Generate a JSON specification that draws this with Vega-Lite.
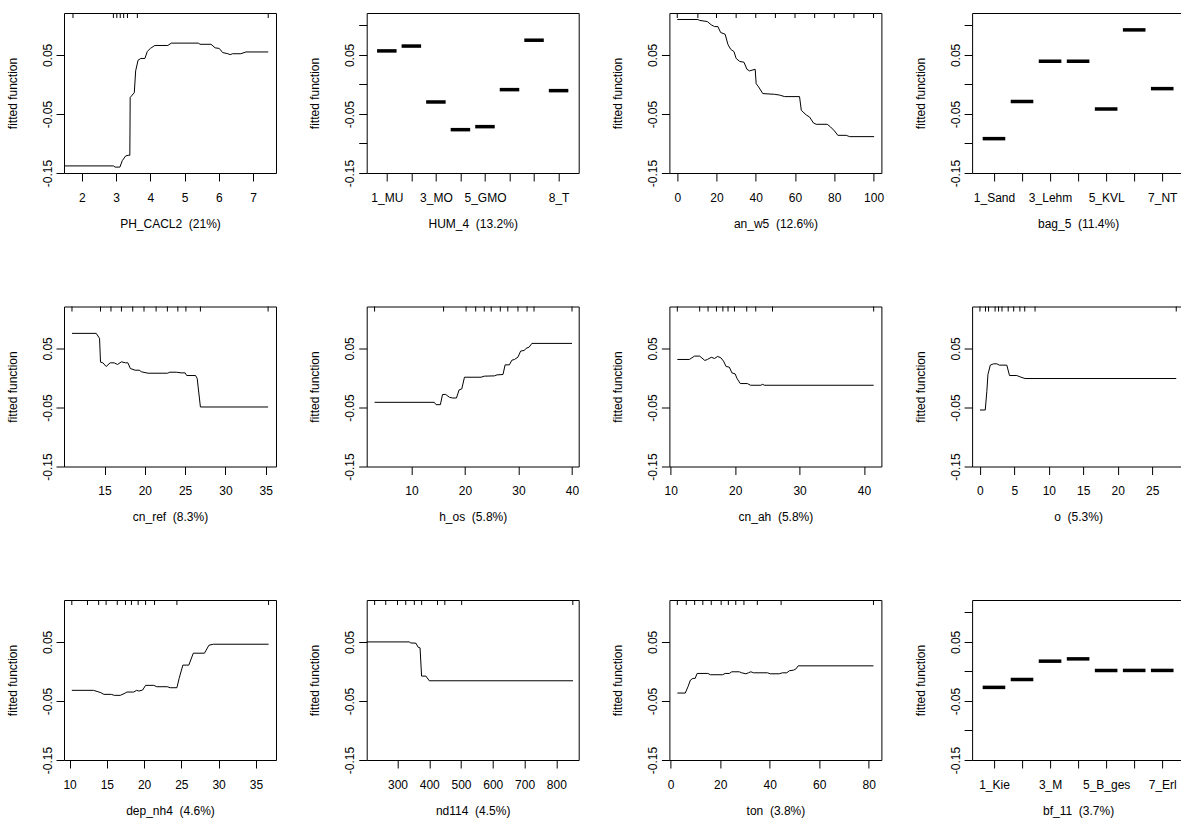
{
"$schema": "https://vega.github.io/schema/vega-lite/v6.json",
"background": "white",
"padding": {"left": 5, "top": 12, "right": 0, "bottom": 6},
"bounds": "flush",
"columns": 4,
"spacing": {"row": 133.5, "column": 90.7},
"config": {
 "font": "Liberation Sans",
 "view": {"stroke": "black", "strokeWidth": 1},
 "tick": {"opacity": 1},
 "axis": {"domain": false, "grid": false, "tickColor": "black", "tickWidth": 1, "tickSize": 8,
  "labelFont": "Liberation Sans", "labelFontSize": 12, "labelColor": "black", "labelOverlap": false, "labelFlush": false, "labelBound": false,
  "titleFont": "Liberation Sans", "titleFontSize": 12, "titleFontWeight": "normal", "titleColor": "black"},
 "axisX": {"labelPadding": 11, "titlePadding": 15, "labelAngle": 0},
 "axisY": {"labelAngle": 270, "labelPadding": 2, "titlePadding": 22}
},
"datasets": {
 "d1": [{"x":1.48,"y":-0.138},{"x":2.92,"y":-0.138},{"x":2.97,"y":-0.14},{"x":3.11,"y":-0.14},{"x":3.18,"y":-0.129},{"x":3.28,"y":-0.121},{"x":3.35,"y":-0.12},{"x":3.40,"y":-0.12},{"x":3.41,"y":-0.022},{"x":3.47,"y":-0.018},{"x":3.53,"y":-0.014},{"x":3.57,"y":0.023},{"x":3.64,"y":0.041},{"x":3.72,"y":0.044},{"x":3.84,"y":0.044},{"x":3.91,"y":0.056},{"x":4.0,"y":0.061},{"x":4.13,"y":0.066},{"x":4.51,"y":0.066},{"x":4.61,"y":0.070},{"x":5.40,"y":0.070},{"x":5.45,"y":0.068},{"x":5.77,"y":0.068},{"x":5.89,"y":0.062},{"x":6.01,"y":0.061},{"x":6.11,"y":0.054},{"x":6.26,"y":0.052},{"x":6.33,"y":0.0505},{"x":6.40,"y":0.052},{"x":6.64,"y":0.052},{"x":6.79,"y":0.055},{"x":7.44,"y":0.055}],
 "r1": [{"x":1.74},{"x":2.92},{"x":3.02},{"x":3.12},{"x":3.22},{"x":3.33},{"x":3.62},{"x":7.44}],
 "d2": [{"x":1,"y":0.0568},{"x":2,"y":0.065},{"x":3,"y":-0.0297},{"x":4,"y":-0.0766},{"x":5,"y":-0.0715},{"x":6,"y":-0.0088},{"x":7,"y":0.0749},{"x":8,"y":-0.0105}],
 "d3": [{"x":0,"y":0.110},{"x":10.5,"y":0.110},{"x":11.4,"y":0.1085},{"x":15.3,"y":0.1065},{"x":17.3,"y":0.101},{"x":19,"y":0.098},{"x":20.7,"y":0.098},{"x":22.1,"y":0.088},{"x":24.4,"y":0.085},{"x":25.8,"y":0.068},{"x":27.2,"y":0.0596},{"x":28.9,"y":0.0556},{"x":30,"y":0.044},{"x":31.8,"y":0.039},{"x":34,"y":0.0376},{"x":35.5,"y":0.0257},{"x":36.8,"y":0.0229},{"x":39.7,"y":0.0257},{"x":40.2,"y":0.0014},{"x":41.4,"y":-0.004},{"x":43.6,"y":-0.0155},{"x":49.6,"y":-0.0167},{"x":52.1,"y":-0.018},{"x":54.7,"y":-0.0206},{"x":62.3,"y":-0.0206},{"x":63.2,"y":-0.0438},{"x":65.7,"y":-0.0517},{"x":67.4,"y":-0.0551},{"x":69.4,"y":-0.0653},{"x":70.8,"y":-0.0675},{"x":76.4,"y":-0.0675},{"x":78.1,"y":-0.072},{"x":80.1,"y":-0.0788},{"x":81.8,"y":-0.0862},{"x":86.1,"y":-0.0862},{"x":87.8,"y":-0.0884},{"x":100.3,"y":-0.0884}],
 "r3": [{"x":0},{"x":10.5},{"x":20},{"x":30},{"x":40},{"x":50},{"x":60},{"x":70},{"x":80},{"x":90},{"x":100}],
 "d4": [{"x":1,"y":-0.0918},{"x":2,"y":-0.0291},{"x":3,"y":0.0393},{"x":4,"y":0.0393},{"x":5,"y":-0.0415},{"x":6,"y":0.0924},{"x":7,"y":-0.0071}],
 "d5": [{"x":10.96,"y":0.0755},{"x":13.97,"y":0.0755},{"x":14.38,"y":0.067},{"x":14.5,"y":0.0268},{"x":14.8,"y":0.0256},{"x":15.2,"y":0.0194},{"x":15.7,"y":0.0256},{"x":16.2,"y":0.0256},{"x":16.6,"y":0.0228},{"x":17.1,"y":0.0273},{"x":17.6,"y":0.0256},{"x":17.9,"y":0.0256},{"x":18.2,"y":0.016},{"x":18.8,"y":0.0131},{"x":19.3,"y":0.0131},{"x":19.6,"y":0.0103},{"x":20.4,"y":0.008},{"x":22.8,"y":0.008},{"x":23.1,"y":0.0097},{"x":23.9,"y":0.0097},{"x":24.5,"y":0.0086},{"x":25,"y":0.0086},{"x":25.2,"y":0.0041},{"x":26.3,"y":0.0041},{"x":26.5,"y":-0.001},{"x":26.9,"y":-0.0492},{"x":35.3,"y":-0.0492}],
 "r5": [{"x":10.96},{"x":14.5},{"x":15.8},{"x":17.1},{"x":18.5},{"x":19.9},{"x":21.4},{"x":22.8},{"x":24.1},{"x":25.1},{"x":26.9},{"x":35.3}],
 "d6": [{"x":3.1,"y":-0.0413},{"x":14.25,"y":-0.0413},{"x":14.6,"y":-0.0453},{"x":15.4,"y":-0.0453},{"x":15.8,"y":-0.028},{"x":16.4,"y":-0.028},{"x":17.1,"y":-0.0328},{"x":17.7,"y":-0.034},{"x":18.4,"y":-0.034},{"x":18.9,"y":-0.0203},{"x":19.4,"y":-0.0186},{"x":19.9,"y":0.0012},{"x":23,"y":0.0012},{"x":23.6,"y":0.003},{"x":25.5,"y":0.0035},{"x":26,"y":0.0052},{"x":27.1,"y":0.0058},{"x":27.5,"y":0.0222},{"x":28.3,"y":0.0222},{"x":28.75,"y":0.030},{"x":29.25,"y":0.0313},{"x":29.9,"y":0.0353},{"x":30.4,"y":0.0455},{"x":31.1,"y":0.0466},{"x":31.4,"y":0.05},{"x":32,"y":0.0523},{"x":32.5,"y":0.0585},{"x":40,"y":0.0585}],
 "r6": [{"x":3.1},{"x":16},{"x":20.2},{"x":22},{"x":23.6},{"x":24.9},{"x":26.6},{"x":28},{"x":29.9},{"x":31.6},{"x":32.9},{"x":40}],
 "d7": [{"x":11.03,"y":0.0313},{"x":12.9,"y":0.0313},{"x":13.7,"y":0.037},{"x":14.5,"y":0.037},{"x":15.3,"y":0.0296},{"x":15.7,"y":0.0313},{"x":16.3,"y":0.035},{"x":16.8,"y":0.033},{"x":17.3,"y":0.0364},{"x":17.8,"y":0.034},{"x":18.2,"y":0.0285},{"x":18.6,"y":0.0194},{"x":19.1,"y":0.0183},{"x":19.5,"y":0.0086},{"x":20,"y":0.0069},{"x":20.3,"y":-0.001},{"x":20.8,"y":-0.0095},{"x":21.9,"y":-0.0095},{"x":22.4,"y":-0.0124},{"x":24,"y":-0.0124},{"x":24.3,"y":-0.0107},{"x":24.5,"y":-0.0124},{"x":41.5,"y":-0.0124}],
 "r7": [{"x":11.03},{"x":14.5},{"x":15.8},{"x":17.1},{"x":18.1},{"x":18.9},{"x":19.9},{"x":21.8},{"x":23.2},{"x":25.8},{"x":41.5}],
 "d8": [{"x":0,"y":-0.0543},{"x":0.77,"y":-0.0543},{"x":1.0,"y":-0.0226},{"x":1.16,"y":0.0058},{"x":1.5,"y":0.0217},{"x":1.97,"y":0.0239},{"x":2.46,"y":0.0239},{"x":2.8,"y":0.0217},{"x":3.9,"y":0.0217},{"x":4.29,"y":0.0041},{"x":5.35,"y":0.0041},{"x":5.83,"y":0.0018},{"x":6.55,"y":-0.001},{"x":28.5,"y":-0.001}],
 "r8": [{"x":0},{"x":0.8},{"x":1.25},{"x":2.2},{"x":2.7},{"x":3.2},{"x":4.1},{"x":4.9},{"x":5.8},{"x":6.5},{"x":8},{"x":28.5}],
 "d9": [{"x":10.3,"y":-0.032},{"x":13.2,"y":-0.032},{"x":13.8,"y":-0.0343},{"x":14.2,"y":-0.036},{"x":14.6,"y":-0.0388},{"x":15.6,"y":-0.0388},{"x":16,"y":-0.0405},{"x":16.8,"y":-0.0405},{"x":17.3,"y":-0.0377},{"x":17.7,"y":-0.0349},{"x":18.6,"y":-0.0349},{"x":19,"y":-0.032},{"x":19.3,"y":-0.0332},{"x":19.8,"y":-0.0315},{"x":20.2,"y":-0.0236},{"x":21.3,"y":-0.0236},{"x":21.7,"y":-0.0259},{"x":23.1,"y":-0.0259},{"x":23.5,"y":-0.0276},{"x":24.4,"y":-0.0276},{"x":24.7,"y":-0.0118},{"x":25.2,"y":0.0107},{"x":26,"y":0.0107},{"x":26.6,"y":0.0309},{"x":28.1,"y":0.0309},{"x":28.7,"y":0.0444},{"x":29.3,"y":0.0461},{"x":36.7,"y":0.0461}],
 "r9": [{"x":10.3},{"x":12.4},{"x":13.9},{"x":14.9},{"x":16.4},{"x":17.5},{"x":18.3},{"x":19.2},{"x":20.2},{"x":21.4},{"x":24.4},{"x":36.7}],
 "d10": [{"x":203,"y":0.05},{"x":336.8,"y":0.05},{"x":342,"y":0.0483},{"x":358,"y":0.0478},{"x":365,"y":0.041},{"x":371,"y":0.0399},{"x":375.8,"y":-0.0079},{"x":389.5,"y":-0.0079},{"x":400,"y":-0.0158},{"x":852.6,"y":-0.0158}],
 "r10": [{"x":228},{"x":263},{"x":300},{"x":326},{"x":353},{"x":376},{"x":426},{"x":449},{"x":502},{"x":852}],
 "d11": [{"x":2.7,"y":-0.0366},{"x":5.9,"y":-0.0366},{"x":7,"y":-0.0259},{"x":8,"y":-0.0146},{"x":9,"y":-0.0118},{"x":9.9,"y":-0.0118},{"x":10.7,"y":-0.0034},{"x":15,"y":-0.0034},{"x":16.1,"y":-0.0056},{"x":21,"y":-0.0056},{"x":22,"y":-0.0034},{"x":23.7,"y":-0.0034},{"x":24.7,"y":-0.0006},{"x":27.7,"y":-0.0006},{"x":28.7,"y":-0.0023},{"x":30.4,"y":-0.004},{"x":31.4,"y":-0.0023},{"x":32.4,"y":-0.0006},{"x":33.5,"y":-0.0023},{"x":39.1,"y":-0.0023},{"x":40.2,"y":-0.004},{"x":43.8,"y":-0.004},{"x":45.2,"y":-0.0023},{"x":46.9,"y":-0.0023},{"x":47.9,"y":0.0011},{"x":49.6,"y":0.0022},{"x":50.5,"y":0.0039},{"x":51.5,"y":0.0095},{"x":81.9,"y":0.0095}],
 "r11": [{"x":2.7},{"x":6.3},{"x":9.7},{"x":13},{"x":16.4},{"x":20.4},{"x":23.3},{"x":26.3},{"x":29.6},{"x":35},{"x":44.6},{"x":81.9}],
 "d12": [{"x":1,"y":-0.027},{"x":2,"y":-0.0135},{"x":3,"y":0.0174},{"x":4,"y":0.0213},{"x":5,"y":0.0017},{"x":6,"y":0.0017},{"x":7,"y":0.0017}]
},
"concat": [
 {"width": 212, "height": 160, "layer": [
  {"data": {"name": "d1"}, "mark": {"type": "line", "color": "black", "strokeWidth": 1},
   "encoding": {"x": {"field": "x", "type": "quantitative", "scale": {"domain": [1.478, 7.667], "nice": false, "zero": false}, "axis": {"values": [2,3,4,5,6,7], "title": "PH_CACL2\u00a0 (21%)"}},
    "y": {"field": "y", "type": "quantitative", "scale": {"domain": [-0.15, 0.121], "nice": false, "zero": false}, "axis": {"values": [-0.15,-0.1,-0.05,0,0.05,0.1], "labelExpr": "datum.value == 0.05 ? '0.05' : datum.value == -0.05 ? '-0.05' : datum.value == -0.15 ? '-0.15' : ''", "title": "fitted function"}}}},
  {"data": {"name": "r1"}, "mark": {"type": "rule", "color": "black", "strokeWidth": 1},
   "encoding": {"x": {"field": "x", "type": "quantitative"}, "y": {"datum": 0.121}, "y2": {"datum": 0.1125}}}
 ]},
 {"width": 212, "height": 160, "layer": [
  {"data": {"name": "d2"}, "mark": {"type": "tick", "orient": "horizontal", "color": "black", "opacity": 1, "size": 19.5, "thickness": 3.5},
   "encoding": {"x": {"field": "x", "type": "quantitative", "scale": {"domain": [0.18, 8.82], "nice": false, "zero": false}, "axis": {"values": [1,2,3,4,5,6,7,8], "labelExpr": "datum.value == 1 ? '1_MU' : datum.value == 3 ? '3_MO' : datum.value == 5 ? '5_GMO' : datum.value == 8 ? '8_T' : ''", "title": "HUM_4\u00a0 (13.2%)"}},
    "y": {"field": "y", "type": "quantitative", "scale": {"domain": [-0.15, 0.121], "nice": false, "zero": false}, "axis": {"values": [-0.15,-0.1,-0.05,0,0.05,0.1], "labelExpr": "datum.value == 0.05 ? '0.05' : datum.value == -0.05 ? '-0.05' : datum.value == -0.15 ? '-0.15' : ''", "title": "fitted function"}}}}
 ]},
 {"width": 212, "height": 160, "layer": [
  {"data": {"name": "d3"}, "mark": {"type": "line", "color": "black", "strokeWidth": 1},
   "encoding": {"x": {"field": "x", "type": "quantitative", "scale": {"domain": [-4.0, 104.0], "nice": false, "zero": false}, "axis": {"values": [0,20,40,60,80,100], "title": "an_w5\u00a0 (12.6%)"}},
    "y": {"field": "y", "type": "quantitative", "scale": {"domain": [-0.15, 0.121], "nice": false, "zero": false}, "axis": {"values": [-0.15,-0.1,-0.05,0,0.05,0.1], "labelExpr": "datum.value == 0.05 ? '0.05' : datum.value == -0.05 ? '-0.05' : datum.value == -0.15 ? '-0.15' : ''", "title": "fitted function"}}}},
  {"data": {"name": "r3"}, "mark": {"type": "rule", "color": "black", "strokeWidth": 1},
   "encoding": {"x": {"field": "x", "type": "quantitative"}, "y": {"datum": 0.121}, "y2": {"datum": 0.1125}}}
 ]},
 {"width": 212, "height": 160, "layer": [
  {"data": {"name": "d4"}, "mark": {"type": "tick", "orient": "horizontal", "color": "black", "opacity": 1, "size": 22.6, "thickness": 3.5},
   "encoding": {"x": {"field": "x", "type": "quantitative", "scale": {"domain": [0.22, 7.78], "nice": false, "zero": false}, "axis": {"values": [1,2,3,4,5,6,7], "labelExpr": "datum.value == 1 ? '1_Sand' : datum.value == 3 ? '3_Lehm' : datum.value == 5 ? '5_KVL' : datum.value == 7 ? '7_NT' : ''", "title": "bag_5\u00a0 (11.4%)"}},
    "y": {"field": "y", "type": "quantitative", "scale": {"domain": [-0.15, 0.121], "nice": false, "zero": false}, "axis": {"values": [-0.15,-0.1,-0.05,0,0.05,0.1], "labelExpr": "datum.value == 0.05 ? '0.05' : datum.value == -0.05 ? '-0.05' : datum.value == -0.15 ? '-0.15' : ''", "title": "fitted function"}}}}
 ]},
 {"width": 212, "height": 160, "layer": [
  {"data": {"name": "d5"}, "mark": {"type": "line", "color": "black", "strokeWidth": 1},
   "encoding": {"x": {"field": "x", "type": "quantitative", "scale": {"domain": [9.97, 36.28], "nice": false, "zero": false}, "axis": {"values": [15,20,25,30,35], "title": "cn_ref\u00a0 (8.3%)"}},
    "y": {"field": "y", "type": "quantitative", "scale": {"domain": [-0.15, 0.121], "nice": false, "zero": false}, "axis": {"values": [-0.15,-0.1,-0.05,0,0.05,0.1], "labelExpr": "datum.value == 0.05 ? '0.05' : datum.value == -0.05 ? '-0.05' : datum.value == -0.15 ? '-0.15' : ''", "title": "fitted function"}}}},
  {"data": {"name": "r5"}, "mark": {"type": "rule", "color": "black", "strokeWidth": 1},
   "encoding": {"x": {"field": "x", "type": "quantitative"}, "y": {"datum": 0.121}, "y2": {"datum": 0.1125}}}
 ]},
 {"width": 212, "height": 160, "layer": [
  {"data": {"name": "d6"}, "mark": {"type": "line", "color": "black", "strokeWidth": 1},
   "encoding": {"x": {"field": "x", "type": "quantitative", "scale": {"domain": [1.63, 41.25], "nice": false, "zero": false}, "axis": {"values": [10,20,30,40], "title": "h_os\u00a0 (5.8%)"}},
    "y": {"field": "y", "type": "quantitative", "scale": {"domain": [-0.15, 0.121], "nice": false, "zero": false}, "axis": {"values": [-0.15,-0.1,-0.05,0,0.05,0.1], "labelExpr": "datum.value == 0.05 ? '0.05' : datum.value == -0.05 ? '-0.05' : datum.value == -0.15 ? '-0.15' : ''", "title": "fitted function"}}}},
  {"data": {"name": "r6"}, "mark": {"type": "rule", "color": "black", "strokeWidth": 1},
   "encoding": {"x": {"field": "x", "type": "quantitative"}, "y": {"datum": 0.121}, "y2": {"datum": 0.1125}}}
 ]},
 {"width": 212, "height": 160, "layer": [
  {"data": {"name": "d7"}, "mark": {"type": "line", "color": "black", "strokeWidth": 1},
   "encoding": {"x": {"field": "x", "type": "quantitative", "scale": {"domain": [9.8, 42.7], "nice": false, "zero": false}, "axis": {"values": [10,15,20,25,30,35,40], "title": "cn_ah\u00a0 (5.8%)"}},
    "y": {"field": "y", "type": "quantitative", "scale": {"domain": [-0.15, 0.121], "nice": false, "zero": false}, "axis": {"values": [-0.15,-0.1,-0.05,0,0.05,0.1], "labelExpr": "datum.value == 0.05 ? '0.05' : datum.value == -0.05 ? '-0.05' : datum.value == -0.15 ? '-0.15' : ''", "title": "fitted function"}}}},
  {"data": {"name": "r7"}, "mark": {"type": "rule", "color": "black", "strokeWidth": 1},
   "encoding": {"x": {"field": "x", "type": "quantitative"}, "y": {"datum": 0.121}, "y2": {"datum": 0.1125}}}
 ]},
 {"width": 212, "height": 160, "layer": [
  {"data": {"name": "d8"}, "mark": {"type": "line", "color": "black", "strokeWidth": 1},
   "encoding": {"x": {"field": "x", "type": "quantitative", "scale": {"domain": [-1.14, 29.64], "nice": false, "zero": false}, "axis": {"values": [0,5,10,15,20,25], "title": "o\u00a0 (5.3%)"}},
    "y": {"field": "y", "type": "quantitative", "scale": {"domain": [-0.15, 0.121], "nice": false, "zero": false}, "axis": {"values": [-0.15,-0.1,-0.05,0,0.05,0.1], "labelExpr": "datum.value == 0.05 ? '0.05' : datum.value == -0.05 ? '-0.05' : datum.value == -0.15 ? '-0.15' : ''", "title": "fitted function"}}}},
  {"data": {"name": "r8"}, "mark": {"type": "rule", "color": "black", "strokeWidth": 1},
   "encoding": {"x": {"field": "x", "type": "quantitative"}, "y": {"datum": 0.121}, "y2": {"datum": 0.1125}}}
 ]},
 {"width": 212, "height": 160, "layer": [
  {"data": {"name": "d9"}, "mark": {"type": "line", "color": "black", "strokeWidth": 1},
   "encoding": {"x": {"field": "x", "type": "quantitative", "scale": {"domain": [9.25, 37.7], "nice": false, "zero": false}, "axis": {"values": [10,15,20,25,30,35], "title": "dep_nh4\u00a0 (4.6%)"}},
    "y": {"field": "y", "type": "quantitative", "scale": {"domain": [-0.15, 0.121], "nice": false, "zero": false}, "axis": {"values": [-0.15,-0.1,-0.05,0,0.05,0.1], "labelExpr": "datum.value == 0.05 ? '0.05' : datum.value == -0.05 ? '-0.05' : datum.value == -0.15 ? '-0.15' : ''", "title": "fitted function"}}}},
  {"data": {"name": "r9"}, "mark": {"type": "rule", "color": "black", "strokeWidth": 1},
   "encoding": {"x": {"field": "x", "type": "quantitative"}, "y": {"datum": 0.121}, "y2": {"datum": 0.1125}}}
 ]},
 {"width": 212, "height": 160, "layer": [
  {"data": {"name": "d10"}, "mark": {"type": "line", "color": "black", "strokeWidth": 1},
   "encoding": {"x": {"field": "x", "type": "quantitative", "scale": {"domain": [203, 870.5], "nice": false, "zero": false}, "axis": {"values": [300,400,500,600,700,800], "title": "nd114\u00a0 (4.5%)"}},
    "y": {"field": "y", "type": "quantitative", "scale": {"domain": [-0.15, 0.121], "nice": false, "zero": false}, "axis": {"values": [-0.15,-0.1,-0.05,0,0.05,0.1], "labelExpr": "datum.value == 0.05 ? '0.05' : datum.value == -0.05 ? '-0.05' : datum.value == -0.15 ? '-0.15' : ''", "title": "fitted function"}}}},
  {"data": {"name": "r10"}, "mark": {"type": "rule", "color": "black", "strokeWidth": 1},
   "encoding": {"x": {"field": "x", "type": "quantitative"}, "y": {"datum": 0.121}, "y2": {"datum": 0.1125}}}
 ]},
 {"width": 212, "height": 160, "layer": [
  {"data": {"name": "d11"}, "mark": {"type": "line", "color": "black", "strokeWidth": 1},
   "encoding": {"x": {"field": "x", "type": "quantitative", "scale": {"domain": [-0.5, 85.1], "nice": false, "zero": false}, "axis": {"values": [0,20,40,60,80], "title": "ton\u00a0 (3.8%)"}},
    "y": {"field": "y", "type": "quantitative", "scale": {"domain": [-0.15, 0.121], "nice": false, "zero": false}, "axis": {"values": [-0.15,-0.1,-0.05,0,0.05,0.1], "labelExpr": "datum.value == 0.05 ? '0.05' : datum.value == -0.05 ? '-0.05' : datum.value == -0.15 ? '-0.15' : ''", "title": "fitted function"}}}},
  {"data": {"name": "r11"}, "mark": {"type": "rule", "color": "black", "strokeWidth": 1},
   "encoding": {"x": {"field": "x", "type": "quantitative"}, "y": {"datum": 0.121}, "y2": {"datum": 0.1125}}}
 ]},
 {"width": 212, "height": 160, "layer": [
  {"data": {"name": "d12"}, "mark": {"type": "tick", "orient": "horizontal", "color": "black", "opacity": 1, "size": 22.6, "thickness": 3.5},
   "encoding": {"x": {"field": "x", "type": "quantitative", "scale": {"domain": [0.22, 7.78], "nice": false, "zero": false}, "axis": {"values": [1,2,3,4,5,6,7], "labelExpr": "datum.value == 1 ? '1_Kie' : datum.value == 3 ? '3_M' : datum.value == 5 ? '5_B_ges' : datum.value == 7 ? '7_Erl' : ''", "title": "bf_11\u00a0 (3.7%)"}},
    "y": {"field": "y", "type": "quantitative", "scale": {"domain": [-0.15, 0.121], "nice": false, "zero": false}, "axis": {"values": [-0.15,-0.1,-0.05,0,0.05,0.1], "labelExpr": "datum.value == 0.05 ? '0.05' : datum.value == -0.05 ? '-0.05' : datum.value == -0.15 ? '-0.15' : ''", "title": "fitted function"}}}}
 ]}
]
}
